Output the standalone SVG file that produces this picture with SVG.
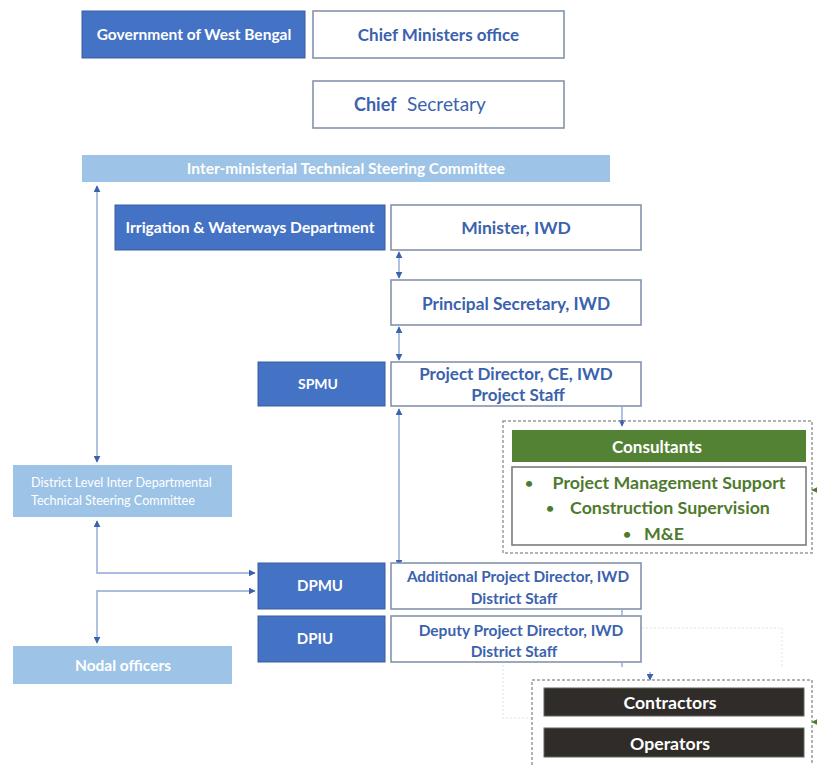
<svg xmlns="http://www.w3.org/2000/svg" width="817" height="765" viewBox="0 0 817 765">
<style>
text{font-family:Lato,"Open Sans","Liberation Sans",sans-serif;font-weight:bold;text-anchor:middle}
text.n{font-weight:normal;text-anchor:start}
text.s{text-anchor:start}
.dk{fill:#4472c4;stroke:#3a5f9f;stroke-width:1}
.wt{fill:#fff;stroke:#8494ad;stroke-width:1.6}
.lb{fill:#9dc3e6}
.tw{fill:#fff}
.tb{fill:#3b62ad}
.tg{fill:#4e7a2e}
.con{stroke:#8fa6d6;stroke-width:1.4;fill:none}
.dash{stroke:#9a9a9a;stroke-width:1.5;stroke-dasharray:3 2;fill:none}
.faint{stroke:#e2e2e2;stroke-width:1;stroke-dasharray:2 2;fill:none}
</style>
<defs>
<marker id="ah" viewBox="0 0 10 10" refX="9" refY="5" markerWidth="5" markerHeight="5" orient="auto-start-reverse">
<path d="M0,0 L10,5 L0,10 z" fill="#3b62ad"/>
</marker>
<marker id="ag" viewBox="0 0 10 10" refX="9" refY="5" markerWidth="5" markerHeight="5" orient="auto-start-reverse">
<path d="M0,0 L10,5 L0,10 z" fill="#4e7a2e"/>
</marker>
</defs>
<rect width="817" height="765" fill="#fff"/>

<g id="connectors">
<line class="con" x1="97" y1="186" x2="97" y2="462" marker-start="url(#ah)" marker-end="url(#ah)"/>
<polyline class="con" points="97,521 97,573 255,573" marker-start="url(#ah)" marker-end="url(#ah)"/>
<polyline class="con" points="255,591 97,591 97,643" marker-start="url(#ah)" marker-end="url(#ah)"/>
<line class="con" x1="399" y1="252" x2="399" y2="278" marker-start="url(#ah)" marker-end="url(#ah)"/>
<line class="con" x1="399" y1="327" x2="399" y2="360" marker-start="url(#ah)" marker-end="url(#ah)"/>
<line class="con" x1="399" y1="409" x2="399" y2="566" marker-start="url(#ah)" marker-end="url(#ah)"/>
<line class="con" x1="622" y1="407" x2="622" y2="426" marker-end="url(#ah)"/>
<line class="con" x1="622" y1="610" x2="622" y2="615"/>
<line class="con" x1="622" y1="663" x2="622" y2="667"/>
<line class="con" x1="650" y1="672" x2="650" y2="680" marker-end="url(#ah)"/>
<polyline class="faint" points="642,628 782,628 782,667"/>
<polyline class="faint" points="503,665 503,718 532,718"/>
<line x1="817" y1="490" x2="812" y2="490" stroke="#4e7a2e" stroke-width="1.2" marker-end="url(#ag)"/>
<line x1="817" y1="722" x2="812" y2="722" stroke="#4e7a2e" stroke-width="1.2" marker-end="url(#ag)"/>
</g>

<g id="gov">
<rect class="dk" x="82" y="11" width="223" height="47"/>
<text class="tw" x="194" y="40" font-size="15.5">Government of West Bengal</text>
</g>
<g id="cmo">
<rect class="wt" x="313" y="11" width="251" height="47"/>
<text class="tb" x="438.5" y="41" font-size="17">Chief Ministers office</text>
</g>
<g id="cs">
<rect class="wt" x="313" y="81" width="251" height="47"/>
<text class="tb s" x="354" y="111" font-size="18">Chief</text>
<text class="tb n" x="407" y="111" font-size="19">Secretary</text>
</g>
<g id="imtsc">
<rect class="lb" x="82" y="155" width="528" height="27"/>
<text class="tw" x="346" y="174" font-size="15.5">Inter-ministerial Technical Steering Committee</text>
</g>
<g id="iwd">
<rect class="dk" x="115" y="205" width="270" height="45"/>
<text class="tw" x="250" y="233" font-size="15.6">Irrigation &amp; Waterways Department</text>
</g>
<g id="minister">
<rect class="wt" x="391" y="205" width="250" height="45"/>
<text class="tb" x="516" y="234" font-size="17.5">Minister, IWD</text>
</g>
<g id="ps">
<rect class="wt" x="391" y="280" width="250" height="45"/>
<text class="tb" x="516" y="310" font-size="17.3">Principal Secretary, IWD</text>
</g>
<g id="spmu">
<rect class="dk" x="258" y="362" width="127" height="44"/>
<text class="tw" x="318" y="389" font-size="14">SPMU</text>
</g>
<g id="pd">
<rect class="wt" x="391" y="362" width="250" height="44"/>
<text class="tb" x="516" y="380" font-size="17">Project Director, CE, IWD</text>
<text class="tb" x="518" y="401" font-size="17">Project Staff</text>
</g>
<g id="consultants">
<rect class="dash" x="503" y="421" width="309" height="132"/>
<rect x="512" y="430" width="294" height="32" fill="#548235"/>
<text class="tw" x="657" y="453" font-size="17">Consultants</text>
<rect x="512" y="467" width="294" height="78" fill="#fff" stroke="#7c7c7c" stroke-width="1.6"/>
<text class="tg s" x="525" y="488" font-size="14">•</text>
<text class="tg" x="669" y="489" font-size="17.8">Project Management Support</text>
<text class="tg s" x="546" y="513" font-size="14">•</text>
<text class="tg" x="670" y="514" font-size="17.8">Construction Supervision</text>
<text class="tg s" x="623" y="539" font-size="14">•</text>
<text class="tg" x="664" y="540" font-size="17.8">M&amp;E</text>
</g>
<g id="dlitsc">
<rect class="lb" x="13" y="465" width="219" height="52"/>
<text class="tw n" x="31" y="487" font-size="12.6">District  Level Inter Departmental</text>
<text class="tw n" x="31" y="505" font-size="12.6">Technical Steering Committee</text>
</g>
<g id="dpmu">
<rect class="dk" x="258" y="563" width="127" height="46"/>
<text class="tw" x="320" y="591" font-size="15">DPMU</text>
</g>
<g id="apd">
<rect class="wt" x="391" y="563" width="250" height="46"/>
<text class="tb" x="518" y="582" font-size="15.3">Additional Project Director, IWD</text>
<text class="tb" x="514" y="604" font-size="15.4">District Staff</text>
</g>
<g id="dpiu">
<rect class="dk" x="258" y="616" width="127" height="46"/>
<text class="tw" x="315" y="644" font-size="15">DPIU</text>
</g>
<g id="dpd">
<rect class="wt" x="391" y="616" width="250" height="46"/>
<text class="tb" x="521" y="636" font-size="15.5">Deputy Project Director, IWD</text>
<text class="tb" x="514" y="657" font-size="15.4">District Staff</text>
</g>
<g id="nodal">
<rect class="lb" x="13" y="646" width="219" height="38"/>
<text class="tw" x="123" y="671" font-size="15.5">Nodal officers</text>
</g>
<g id="contractors">
<rect class="dash" x="532" y="680" width="280" height="90"/>
<rect x="544" y="688" width="260" height="28" fill="#302c29" stroke="#5f6b55" stroke-width="1"/>
<text class="tw" x="670" y="709" font-size="17.7">Contractors</text>
<rect x="544" y="728" width="260" height="29" fill="#302c29" stroke="#5f6b55" stroke-width="1"/>
<text class="tw" x="670" y="750" font-size="17.7">Operators</text>
</g>
</svg>
